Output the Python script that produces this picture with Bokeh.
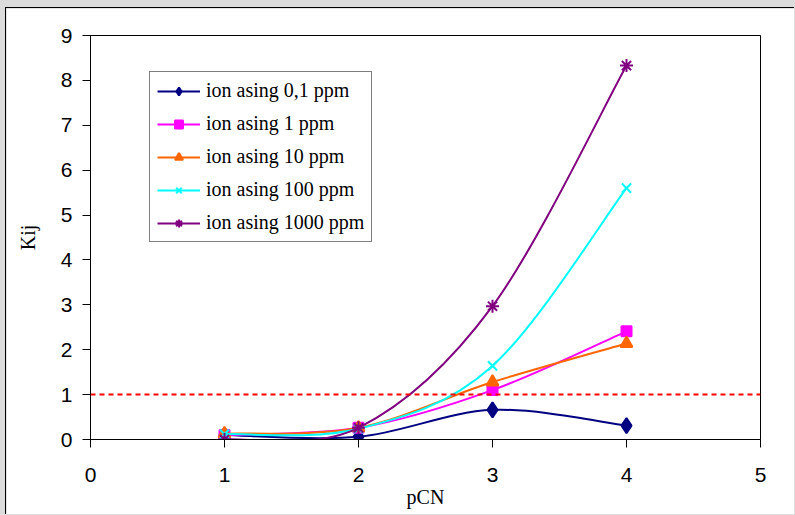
import numpy as np
from bokeh.plotting import figure
from bokeh.models import Span, Legend, LegendItem, FixedTicker, ColumnDataSource
from bokeh.layouts import column
from bokeh.embed import file_html
from bokeh.resources import INLINE

# ---- data ----
pcn = [1, 2, 3, 4]
ion_01 = [0.10, 0.06, 0.66, 0.31]
ion_1 = [0.10, 0.26, 1.10, 2.41]
ion_10 = [0.13, 0.26, 1.28, 2.14]
ion_100 = [0.12, 0.24, 1.64, 5.60]
ion_1000 = [0.00, 0.26, 2.97, 8.33]
labels = ["ion asing 0,1 ppm", "ion asing 1 ppm", "ion asing 10 ppm",
          "ion asing 100 ppm", "ion asing 1000 ppm"]
threshold = 1
x_ticks = [0, 1, 2, 3, 4, 5]
y_ticks = [0, 1, 2, 3, 4, 5, 6, 7, 8, 9]

series = [ion_01, ion_1, ion_10, ion_100, ion_1000]
colors = ["#000080", "#ff00ff", "#ff6600", "#00ffff", "#800080"]
markers = ["diamond", "square", "triangle", "x", "asterisk"]
msizes = [15, 10, 12, 13, 13]


def smooth_segments(xs, ys):
    """Bezier control points for a smoothed line (Excel-style) through the data."""
    x = np.asarray(xs, float)
    y = np.asarray(ys, float)
    n = len(x)
    xp = np.concatenate([[x[0]], x, [x[-1]]])
    yp = np.concatenate([[y[0]], y, [y[-1]]])
    d = dict(x0=[], y0=[], x1=[], y1=[], cx0=[], cy0=[], cx1=[], cy1=[])
    for i in range(n - 1):
        a, b = i + 1, i + 2
        d["x0"].append(xp[a]); d["y0"].append(yp[a])
        d["x1"].append(xp[b]); d["y1"].append(yp[b])
        d["cx0"].append(xp[a] + (xp[b] - xp[a - 1]) / 6)
        d["cy0"].append(yp[a] + (yp[b] - yp[a - 1]) / 6)
        d["cx1"].append(xp[b] - (xp[b + 1] - xp[a]) / 6)
        d["cy1"].append(yp[b] - (yp[b + 1] - yp[a]) / 6)
    return ColumnDataSource(d)


fig = figure(width=789, height=507, margin=(7, 0, 0, 5),
             x_range=(0, 5), y_range=(0, 9),
             output_backend="svg", toolbar_location=None,
             min_border_left=84, min_border_top=27,
             min_border_right=35, min_border_bottom=76)
fig.styles = {"border-left": "1px solid #000", "border-top": "1px solid #000"}
fig.background_fill_color = "white"
fig.border_fill_color = "white"
fig.outline_line_color = "black"
fig.outline_line_width = 1
fig.grid.visible = False

tick_font = "Liberation Sans"
for ax in (fig.xaxis[0], fig.yaxis[0]):
    ax.axis_line_color = "black"
    ax.major_tick_line_color = "black"
    ax.major_tick_in = 0
    ax.major_tick_out = 8
    ax.minor_tick_line_color = None
    ax.major_label_text_font = tick_font
    ax.major_label_text_font_size = "21px"
    ax.major_label_text_color = "black"
    ax.axis_label_text_font = "Liberation Serif"
    ax.axis_label_text_font_size = "20px"
    ax.axis_label_text_font_style = "normal"
    ax.axis_label_text_color = "black"

fig.xaxis.ticker = FixedTicker(ticks=x_ticks)
fig.yaxis.ticker = FixedTicker(ticks=y_ticks)
fig.xaxis.axis_label = "pCN"
fig.yaxis.axis_label = "Kij"
fig.xaxis.major_label_standoff = 20
fig.yaxis.major_label_standoff = 10
fig.xaxis.axis_label_standoff = 1
fig.yaxis.axis_label_standoff = 19

fig.add_layout(Span(location=threshold, dimension="width", line_color="#ff0000",
                    line_width=2, line_dash="5 4"))

items = []
for ys, c, m, s, lab in zip(series, colors, markers, msizes, labels):
    src = smooth_segments(pcn, ys)
    r_line = fig.bezier(x0="x0", y0="y0", x1="x1", y1="y1",
                        cx0="cx0", cy0="cy0", cx1="cx1", cy1="cy1",
                        source=src, line_color=c, line_width=2)
    r_pts = fig.scatter(pcn, ys, marker=m, size=s, fill_color=c,
                        line_color=c, line_width=2)
    items.append(LegendItem(label=lab, renderers=[r_line, r_pts]))

legend = Legend(items=items, location=(59, 197),
                label_text_font="Liberation Serif", label_text_font_size="20px",
                label_text_color="black",
                glyph_width=43, glyph_height=20, label_height=20,
                spacing=10, padding=7, margin=0, label_standoff=6,
                border_line_color="black", border_line_width=1,
                background_fill_color="white", background_fill_alpha=1)
fig.add_layout(legend)

p = column(fig, width=795, height=515, margin=0,
           styles={"background-color": "#dcdcdc"})

open("out.html", "w").write(file_html(p, INLINE))
